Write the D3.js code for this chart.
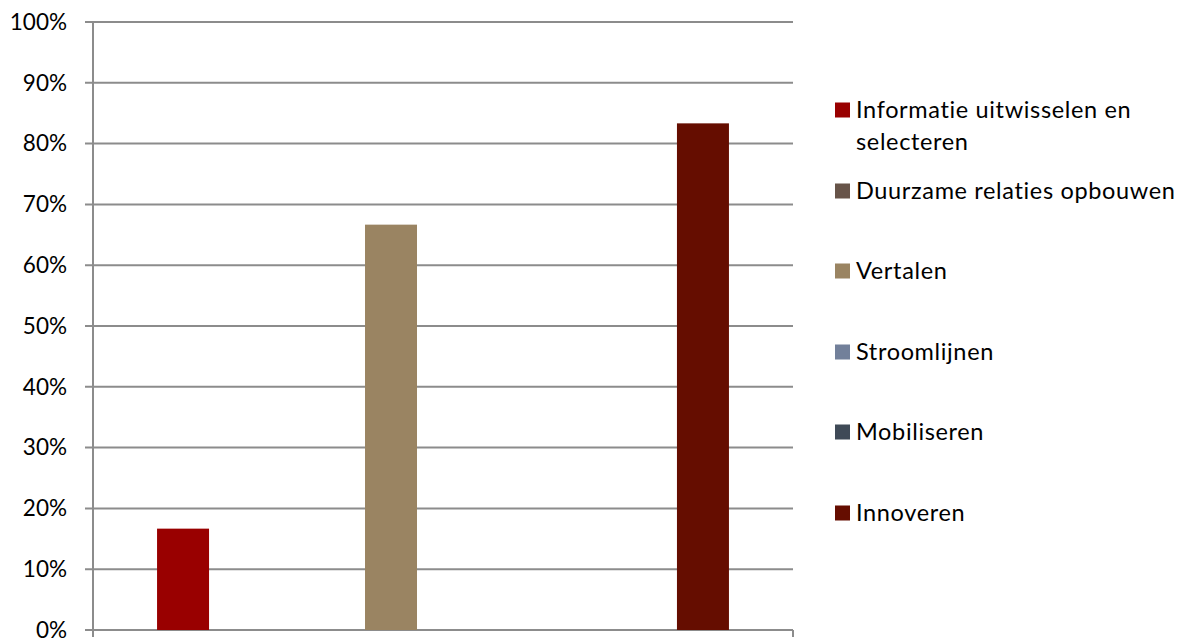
<!DOCTYPE html>
<html>
<head>
<meta charset="utf-8">
<script src="https://cdn.jsdelivr.net/npm/d3@7"></script>
<style>
  body { margin: 0; background: #fff; }
  svg text { font-family: Lato, "Open Sans", sans-serif; fill: #000; font-variant-ligatures: none; }
</style>
</head>
<body>
<svg id="chart" width="1182" height="639"></svg>
<script>
'use strict'

// one category, six series (clustered column)
var series = [
  "Informatie uitwisselen en selecteren",
  "Duurzame relaties opbouwen",
  "Vertalen",
  "Stroomlijnen",
  "Mobiliseren",
  "Innoveren"
]
var values = [0.1667, 0, 0.6667, 0, 0, 0.8333]
var colors = ["#990000", "#675449", "#9a8462", "#72809a", "#3f4a57", "#650d00"]
var legendLines = [
  ["Informatie uitwisselen en", "selecteren"],
  ["Duurzame relaties opbouwen"],
  ["Vertalen"],
  ["Stroomlijnen"],
  ["Mobiliseren"],
  ["Innoveren"]
]
var yTicks = [0, 0.1, 0.2, 0.3, 0.4, 0.5, 0.6, 0.7, 0.8, 0.9, 1]

var plot = { left: 93, right: 793, top: 22, bottom: 630 }
var svg = d3.select("#chart")

var y = d3.scaleLinear().domain([0, 1]).range([plot.bottom, plot.top])

// group spans the inner part of the category band
var cat = d3.scaleBand().domain(["all"]).range([plot.left, plot.right]).paddingOuter(0.061)
var x = d3.scaleBand().domain(series)
  .range([cat("all"), cat("all") + cat.bandwidth()])
  .paddingInner(0.5).paddingOuter(0.25)

// gridlines
svg.append("g")
  .selectAll("line")
  .data(yTicks)
  .join("line")
    .attr("x1", plot.left - 8)
    .attr("x2", plot.right)
    .attr("y1", d => y(d))
    .attr("y2", d => y(d))
    .attr("stroke", "#8c8c8c")
    .attr("stroke-width", 2)

// y axis line
svg.append("line")
  .attr("x1", plot.left).attr("x2", plot.left)
  .attr("y1", plot.top).attr("y2", plot.bottom + 7)
  .attr("stroke", "#8c8c8c").attr("stroke-width", 2)

// x axis ticks at the category edges
svg.append("g")
  .selectAll("line")
  .data([plot.left, plot.right])
  .join("line")
    .attr("x1", d => d).attr("x2", d => d)
    .attr("y1", plot.bottom).attr("y2", plot.bottom + 7)
    .attr("stroke", "#8c8c8c").attr("stroke-width", 2)

// y tick labels
svg.append("g")
  .selectAll("text")
  .data(yTicks)
  .join("text")
    .attr("x", 67)
    .attr("y", d => y(d))
    .attr("dy", "0.35em")
    .attr("text-anchor", "end")
    .attr("font-size", 22.5)
    .text(d3.format(".0%"))

// bars
svg.append("g")
  .selectAll("rect")
  .data(values)
  .join("rect")
    .attr("x", (d, i) => x(series[i]))
    .attr("width", x.bandwidth())
    .attr("y", d => y(d))
    .attr("height", d => y(0) - y(d))
    .attr("fill", (d, i) => colors[i])

// legend
var rowY = [110, 191, 271, 352, 432, 513]
var leg = svg.append("g")
  .selectAll("g")
  .data(series)
  .join("g")
    .attr("transform", (d, i) => "translate(835," + rowY[i] + ")")

leg.append("rect")
  .attr("x", 0).attr("y", -7.5)
  .attr("width", 15).attr("height", 15)
  .attr("fill", (d, i) => colors[i])

leg.append("text")
  .attr("x", 21)
  .attr("font-size", 23.5)
  .attr("letter-spacing", 0.65)
  .selectAll("tspan")
  .data((d, i) => legendLines[i])
  .join("tspan")
    .attr("x", 21)
    .attr("y", (d, j) => j * 32)
    .attr("dy", "0.35em")
    .text(d => d)
</script>
</body>
</html>
